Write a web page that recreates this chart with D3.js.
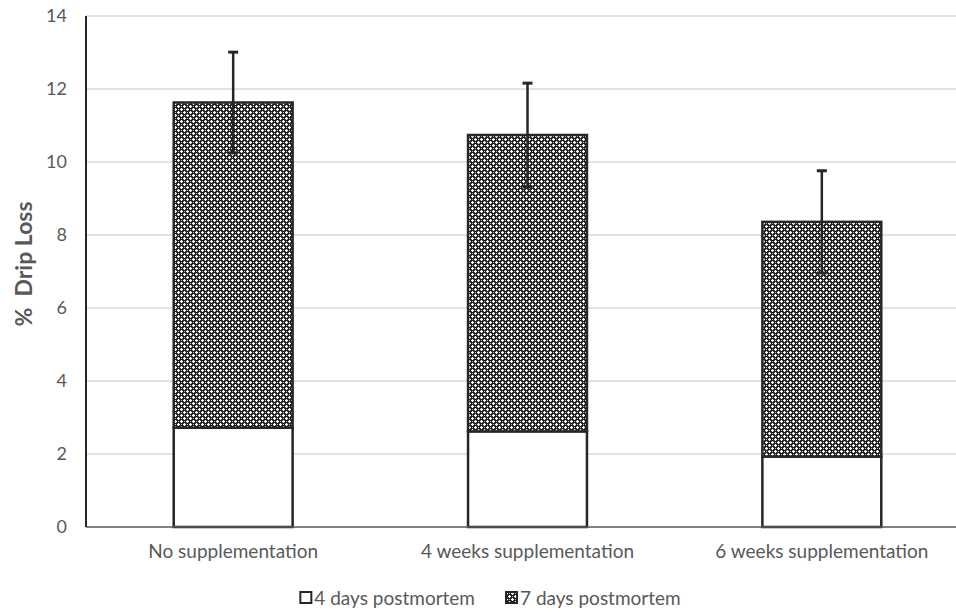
<!DOCTYPE html>
<html>
<head>
<meta charset="utf-8">
<script src="https://cdn.jsdelivr.net/npm/d3@7"></script>
<style>
  body { margin: 0; background: #fff; }
  text { font-family: Lato, "Open Sans", "Liberation Sans", sans-serif; }
</style>
</head>
<body>
<div id="chart"></div>
<script>
(function () {
  // --- data --------------------------------------------------------------
  const categories = ["No supplementation", "4 weeks supplementation", "6 weeks supplementation"];
  const series = ["4 days postmortem", "7 days postmortem"];
  const day4 = [2.72, 2.62, 1.93];
  const day7 = [8.91, 8.12, 6.43];       // stacked on top of day4
  const day7Err = [1.38, 1.42, 1.40];
  const yTicks = [0, 2, 4, 6, 8, 10, 12, 14];
  // -----------------------------------------------------------------------

  const width = 956, height = 613;
  const margin = { top: 16, right: -13, bottom: 86, left: 86 };

  const svg = d3.select("#chart").append("svg")
    .attr("width", width)
    .attr("height", height);

  // pattern for 7 days series
  const defs = svg.append("defs");
  const pat = defs.append("pattern")
    .attr("id", "dots")
    .attr("patternUnits", "userSpaceOnUse")
    .attr("width", 6).attr("height", 6);
  pat.append("rect").attr("width", 6).attr("height", 6).attr("fill", "#1a1a1a");
  [[1.5, 1.5], [4.5, 4.5]].forEach(([cx, cy]) => {
    pat.append("rect").attr("x", cx - 0.6).attr("y", cy - 1.5).attr("width", 1.2).attr("height", 3).attr("fill", "#fff");
    pat.append("rect").attr("x", cx - 1.5).attr("y", cy - 0.6).attr("width", 3).attr("height", 1.2).attr("fill", "#fff");
  });
  pat.append("rect").attr("x", 4).attr("y", 1).attr("width", 1).attr("height", 1).attr("fill", "#bbb");
  pat.append("rect").attr("x", 1).attr("y", 4).attr("width", 1).attr("height", 1).attr("fill", "#bbb");

  const x = d3.scaleBand()
    .domain(categories)
    .range([margin.left, width - margin.right])
    .paddingInner(0.596)
    .paddingOuter(0.298);

  const y = d3.scaleLinear()
    .domain([0, 14])
    .range([height - margin.bottom, margin.top]);

  // gridlines
  svg.append("g")
    .selectAll("line")
    .data(yTicks.filter(d => d > 0))
    .join("line")
      .attr("x1", margin.left).attr("x2", width)
      .attr("y1", d => y(d)).attr("y2", d => y(d))
      .attr("stroke", "#d9d9d9")
      .attr("stroke-width", 1.3);

  // y tick labels
  svg.append("g")
    .selectAll("text")
    .data(yTicks)
    .join("text")
      .attr("x", 67)
      .attr("y", d => y(d))
      .attr("dy", "0.35em")
      .attr("text-anchor", "end")
      .attr("fill", "#595959")
      .style("font-size", "18px")
      .text(d => d);

  // y label
  svg.append("text")
    .attr("transform", `translate(24,264) rotate(-90)`)
    .attr("text-anchor", "middle")
    .attr("dy", "0.35em")
    .attr("fill", "#595959")
    .style("font-size", "23px")
    .style("font-weight", "bold")
    .style("white-space", "pre")
    .text("%  Drip Loss");

  // bars
  const rows = categories.map((c, i) => ({ c, a: day4[i], b: day7[i], e: day7Err[i] }));
  const bars = svg.append("g");
  bars.selectAll("rect.d4")
    .data(rows)
    .join("rect")
      .attr("class", "d4")
      .attr("x", d => x(d.c))
      .attr("width", x.bandwidth())
      .attr("y", d => y(d.a))
      .attr("height", d => y(0) - y(d.a))
      .attr("fill", "#fff")
      .attr("stroke", "#262626")
      .attr("stroke-width", 2.5);
  bars.selectAll("rect.d7")
    .data(rows)
    .join("rect")
      .attr("class", "d7")
      .attr("x", d => x(d.c))
      .attr("width", x.bandwidth())
      .attr("y", d => y(d.a + d.b))
      .attr("height", d => y(d.a) - y(d.a + d.b))
      .attr("fill", "url(#dots)")
      .attr("stroke", "#262626")
      .attr("stroke-width", 2.5);

  // axes lines
  svg.append("line")
    .attr("x1", margin.left).attr("x2", width)
    .attr("y1", y(0)).attr("y2", y(0))
    .attr("stroke", "#595959").attr("stroke-width", 1.5);
  svg.append("line")
    .attr("x1", margin.left).attr("x2", margin.left)
    .attr("y1", y(0)).attr("y2", y(14))
    .attr("stroke", "#262626").attr("stroke-width", 2);

  // error bars
  const err = svg.append("g").attr("stroke", "#262626").attr("stroke-width", 2.5);
  rows.forEach(d => {
    const cx = x(d.c) + x.bandwidth() / 2;
    const top = d.a + d.b;
    err.append("line")
      .attr("x1", cx).attr("x2", cx)
      .attr("y1", y(top - d.e)).attr("y2", y(top + d.e));
    err.append("line")
      .attr("x1", cx - 5).attr("x2", cx + 5)
      .attr("y1", y(top + d.e)).attr("y2", y(top + d.e))
      .attr("stroke-width", 3);
    err.append("line")
      .attr("x1", cx - 5).attr("x2", cx + 5)
      .attr("y1", y(top - d.e)).attr("y2", y(top - d.e))
      .attr("stroke-width", 3);
  });

  // category labels
  svg.append("g")
    .selectAll("text")
    .data(categories)
    .join("text")
      .attr("x", d => x(d) + x.bandwidth() / 2)
      .attr("y", y(0) + 24)
      .attr("dy", "0.35em")
      .attr("text-anchor", "middle")
      .attr("fill", "#595959")
      .style("font-size", "19px")
      .text(d => d);

  // legend, laid out from measured text widths and centred
  const legend = svg.append("g").attr("transform", "translate(0,598)");
  let cursor = 0;
  series.forEach((s, i) => {
    const g = legend.append("g").attr("transform", `translate(${cursor},0)`);
    g.append("rect")
      .attr("x", 1).attr("y", -6)
      .attr("width", 11).attr("height", 11)
      .attr("fill", i === 0 ? "#fff" : "url(#dots)")
      .attr("stroke", "#262626")
      .attr("stroke-width", 2);
    const t = g.append("text")
      .attr("x", 15)
      .attr("dy", "0.35em")
      .attr("fill", "#595959")
      .style("font-size", "19px")
      .text(s);
    cursor += 15 + t.node().getComputedTextLength() + 30;
  });
  const total = cursor - 30;
  legend.attr("transform", `translate(${490 - total / 2},598)`);
})();
</script>
</body>
</html>
